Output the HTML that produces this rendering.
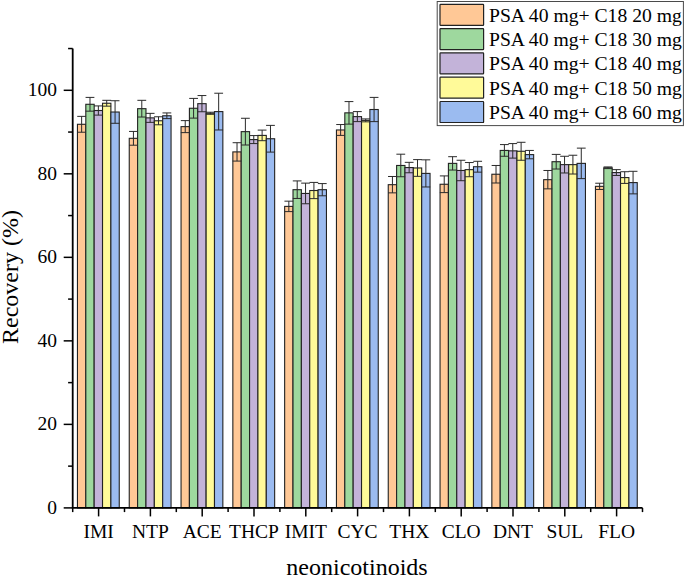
<!DOCTYPE html>
<html><head><meta charset="utf-8"><style>
html,body{margin:0;padding:0;background:#fff;}
svg{display:block;}
.t{font-family:"Liberation Serif",serif;font-size:19.5px;fill:#000;}
.t2{font-family:"Liberation Serif",serif;font-size:24px;fill:#000;}
</style></head><body>
<svg width="685" height="577" viewBox="0 0 685 577">
<rect x="77.45" y="124.29" width="8.36" height="383.61" fill="#FFC896" stroke="#222" stroke-width="1.1"/>
<rect x="85.81" y="104.29" width="8.36" height="403.61" fill="#9ED89E" stroke="#222" stroke-width="1.1"/>
<rect x="94.17" y="110.51" width="8.36" height="397.39" fill="#C3B3D9" stroke="#222" stroke-width="1.1"/>
<rect x="102.53" y="103.25" width="8.36" height="404.65" fill="#FFFA99" stroke="#222" stroke-width="1.1"/>
<rect x="110.89" y="112.02" width="8.36" height="395.88" fill="#9BBBF0" stroke="#222" stroke-width="1.1"/>
<rect x="129.25" y="138.32" width="8.36" height="369.58" fill="#FFC896" stroke="#222" stroke-width="1.1"/>
<rect x="137.61" y="108.67" width="8.36" height="399.23" fill="#9ED89E" stroke="#222" stroke-width="1.1"/>
<rect x="145.97" y="117.86" width="8.36" height="390.04" fill="#C3B3D9" stroke="#222" stroke-width="1.1"/>
<rect x="154.33" y="120.78" width="8.36" height="387.12" fill="#FFFA99" stroke="#222" stroke-width="1.1"/>
<rect x="162.69" y="115.77" width="8.36" height="392.13" fill="#9BBBF0" stroke="#222" stroke-width="1.1"/>
<rect x="181.05" y="126.63" width="8.36" height="381.27" fill="#FFC896" stroke="#222" stroke-width="1.1"/>
<rect x="189.41" y="108.26" width="8.36" height="399.64" fill="#9ED89E" stroke="#222" stroke-width="1.1"/>
<rect x="197.77" y="103.66" width="8.36" height="404.24" fill="#C3B3D9" stroke="#222" stroke-width="1.1"/>
<rect x="206.13" y="113.27" width="8.36" height="394.63" fill="#FFFA99" stroke="#222" stroke-width="1.1"/>
<rect x="214.49" y="111.60" width="8.36" height="396.30" fill="#9BBBF0" stroke="#222" stroke-width="1.1"/>
<rect x="232.85" y="151.90" width="8.36" height="356.00" fill="#FFC896" stroke="#222" stroke-width="1.1"/>
<rect x="241.21" y="131.64" width="8.36" height="376.26" fill="#9ED89E" stroke="#222" stroke-width="1.1"/>
<rect x="249.57" y="139.58" width="8.36" height="368.32" fill="#C3B3D9" stroke="#222" stroke-width="1.1"/>
<rect x="257.93" y="135.40" width="8.36" height="372.50" fill="#FFFA99" stroke="#222" stroke-width="1.1"/>
<rect x="266.29" y="138.74" width="8.36" height="369.16" fill="#9BBBF0" stroke="#222" stroke-width="1.1"/>
<rect x="284.65" y="206.39" width="8.36" height="301.51" fill="#FFC896" stroke="#222" stroke-width="1.1"/>
<rect x="293.01" y="189.69" width="8.36" height="318.21" fill="#9ED89E" stroke="#222" stroke-width="1.1"/>
<rect x="301.37" y="193.45" width="8.36" height="314.45" fill="#C3B3D9" stroke="#222" stroke-width="1.1"/>
<rect x="309.73" y="190.52" width="8.36" height="317.38" fill="#FFFA99" stroke="#222" stroke-width="1.1"/>
<rect x="318.09" y="189.69" width="8.36" height="318.21" fill="#9BBBF0" stroke="#222" stroke-width="1.1"/>
<rect x="336.45" y="129.97" width="8.36" height="377.93" fill="#FFC896" stroke="#222" stroke-width="1.1"/>
<rect x="344.81" y="112.85" width="8.36" height="395.05" fill="#9ED89E" stroke="#222" stroke-width="1.1"/>
<rect x="353.17" y="116.61" width="8.36" height="391.29" fill="#C3B3D9" stroke="#222" stroke-width="1.1"/>
<rect x="361.53" y="120.37" width="8.36" height="387.53" fill="#FFFA99" stroke="#222" stroke-width="1.1"/>
<rect x="369.89" y="109.51" width="8.36" height="398.39" fill="#9BBBF0" stroke="#222" stroke-width="1.1"/>
<rect x="388.25" y="184.68" width="8.36" height="323.22" fill="#FFC896" stroke="#222" stroke-width="1.1"/>
<rect x="396.61" y="165.47" width="8.36" height="342.43" fill="#9ED89E" stroke="#222" stroke-width="1.1"/>
<rect x="404.97" y="167.56" width="8.36" height="340.34" fill="#C3B3D9" stroke="#222" stroke-width="1.1"/>
<rect x="413.33" y="167.97" width="8.36" height="339.93" fill="#FFFA99" stroke="#222" stroke-width="1.1"/>
<rect x="421.69" y="173.40" width="8.36" height="334.50" fill="#9BBBF0" stroke="#222" stroke-width="1.1"/>
<rect x="440.05" y="184.26" width="8.36" height="323.64" fill="#FFC896" stroke="#222" stroke-width="1.1"/>
<rect x="448.41" y="163.38" width="8.36" height="344.52" fill="#9ED89E" stroke="#222" stroke-width="1.1"/>
<rect x="456.77" y="170.48" width="8.36" height="337.42" fill="#C3B3D9" stroke="#222" stroke-width="1.1"/>
<rect x="465.13" y="169.64" width="8.36" height="338.26" fill="#FFFA99" stroke="#222" stroke-width="1.1"/>
<rect x="473.49" y="166.72" width="8.36" height="341.18" fill="#9BBBF0" stroke="#222" stroke-width="1.1"/>
<rect x="491.85" y="174.24" width="8.36" height="333.66" fill="#FFC896" stroke="#222" stroke-width="1.1"/>
<rect x="500.21" y="150.43" width="8.36" height="357.47" fill="#9ED89E" stroke="#222" stroke-width="1.1"/>
<rect x="508.57" y="150.85" width="8.36" height="357.05" fill="#C3B3D9" stroke="#222" stroke-width="1.1"/>
<rect x="516.93" y="151.27" width="8.36" height="356.63" fill="#FFFA99" stroke="#222" stroke-width="1.1"/>
<rect x="525.29" y="154.61" width="8.36" height="353.29" fill="#9BBBF0" stroke="#222" stroke-width="1.1"/>
<rect x="543.65" y="179.67" width="8.36" height="328.23" fill="#FFC896" stroke="#222" stroke-width="1.1"/>
<rect x="552.01" y="161.71" width="8.36" height="346.19" fill="#9ED89E" stroke="#222" stroke-width="1.1"/>
<rect x="560.37" y="164.63" width="8.36" height="343.27" fill="#C3B3D9" stroke="#222" stroke-width="1.1"/>
<rect x="568.73" y="164.63" width="8.36" height="343.27" fill="#FFFA99" stroke="#222" stroke-width="1.1"/>
<rect x="577.09" y="163.38" width="8.36" height="344.52" fill="#9BBBF0" stroke="#222" stroke-width="1.1"/>
<rect x="595.45" y="186.35" width="8.36" height="321.55" fill="#FFC896" stroke="#222" stroke-width="1.1"/>
<rect x="603.81" y="167.76" width="8.36" height="340.14" fill="#9ED89E" stroke="#222" stroke-width="1.1"/>
<rect x="612.17" y="172.57" width="8.36" height="335.33" fill="#C3B3D9" stroke="#222" stroke-width="1.1"/>
<rect x="620.53" y="177.58" width="8.36" height="330.32" fill="#FFFA99" stroke="#222" stroke-width="1.1"/>
<rect x="628.89" y="182.59" width="8.36" height="325.31" fill="#9BBBF0" stroke="#222" stroke-width="1.1"/>
<path d="M81.63 116.36V132.23M77.23 116.36H86.03M77.23 132.23H86.03" stroke="#2a2a2a" stroke-width="1" fill="none"/>
<path d="M89.99 97.40V111.18M85.59 97.40H94.39M85.59 111.18H94.39" stroke="#2a2a2a" stroke-width="1" fill="none"/>
<path d="M98.35 105.92V115.11M93.95 105.92H102.75M93.95 115.11H102.75" stroke="#2a2a2a" stroke-width="1" fill="none"/>
<path d="M106.71 100.32V106.17M102.31 100.32H111.11M102.31 106.17H111.11" stroke="#2a2a2a" stroke-width="1" fill="none"/>
<path d="M115.07 100.74V123.29M110.67 100.74H119.47M110.67 123.29H119.47" stroke="#2a2a2a" stroke-width="1" fill="none"/>
<path d="M133.43 131.43V145.21M129.03 131.43H137.83M129.03 145.21H137.83" stroke="#2a2a2a" stroke-width="1" fill="none"/>
<path d="M141.79 100.32V117.03M137.39 100.32H146.19M137.39 117.03H146.19" stroke="#2a2a2a" stroke-width="1" fill="none"/>
<path d="M150.15 113.35V122.37M145.75 113.35H154.55M145.75 122.37H154.55" stroke="#2a2a2a" stroke-width="1" fill="none"/>
<path d="M158.51 116.78V124.79M154.11 116.78H162.91M154.11 124.79H162.91" stroke="#2a2a2a" stroke-width="1" fill="none"/>
<path d="M166.87 112.93V118.61M162.47 112.93H171.27M162.47 118.61H171.27" stroke="#2a2a2a" stroke-width="1" fill="none"/>
<path d="M185.23 120.62V132.64M180.83 120.62H189.63M180.83 132.64H189.63" stroke="#2a2a2a" stroke-width="1" fill="none"/>
<path d="M193.59 98.40V118.11M189.19 98.40H197.99M189.19 118.11H197.99" stroke="#2a2a2a" stroke-width="1" fill="none"/>
<path d="M201.95 95.56V111.76M197.55 95.56H206.35M197.55 111.76H206.35" stroke="#2a2a2a" stroke-width="1" fill="none"/>
<path d="M210.31 112.22V114.31M205.91 112.22H214.71M205.91 114.31H214.71" stroke="#2a2a2a" stroke-width="1" fill="none"/>
<path d="M218.67 93.22V129.97M214.27 93.22H223.07M214.27 129.97H223.07" stroke="#2a2a2a" stroke-width="1" fill="none"/>
<path d="M237.03 142.71V161.08M232.63 142.71H241.43M232.63 161.08H241.43" stroke="#2a2a2a" stroke-width="1" fill="none"/>
<path d="M245.39 118.28V145.01M240.99 118.28H249.79M240.99 145.01H249.79" stroke="#2a2a2a" stroke-width="1" fill="none"/>
<path d="M253.75 135.57V143.59M249.35 135.57H258.15M249.35 143.59H258.15" stroke="#2a2a2a" stroke-width="1" fill="none"/>
<path d="M262.11 130.10V140.70M257.71 130.10H266.51M257.71 140.70H266.51" stroke="#2a2a2a" stroke-width="1" fill="none"/>
<path d="M270.47 125.38V152.10M266.07 125.38H274.87M266.07 152.10H274.87" stroke="#2a2a2a" stroke-width="1" fill="none"/>
<path d="M288.83 201.17V211.61M284.43 201.17H293.23M284.43 211.61H293.23" stroke="#2a2a2a" stroke-width="1" fill="none"/>
<path d="M297.19 180.92V198.46M292.79 180.92H301.59M292.79 198.46H301.59" stroke="#2a2a2a" stroke-width="1" fill="none"/>
<path d="M305.55 183.13V203.76M301.15 183.13H309.95M301.15 203.76H309.95" stroke="#2a2a2a" stroke-width="1" fill="none"/>
<path d="M313.91 182.42V198.63M309.51 182.42H318.31M309.51 198.63H318.31" stroke="#2a2a2a" stroke-width="1" fill="none"/>
<path d="M322.27 183.59V195.79M317.87 183.59H326.67M317.87 195.79H326.67" stroke="#2a2a2a" stroke-width="1" fill="none"/>
<path d="M340.63 124.54V135.40M336.23 124.54H345.03M336.23 135.40H345.03" stroke="#2a2a2a" stroke-width="1" fill="none"/>
<path d="M348.99 101.58V124.13M344.59 101.58H353.39M344.59 124.13H353.39" stroke="#2a2a2a" stroke-width="1" fill="none"/>
<path d="M357.35 111.60V121.62M352.95 111.60H361.75M352.95 121.62H361.75" stroke="#2a2a2a" stroke-width="1" fill="none"/>
<path d="M365.71 118.91V121.83M361.31 118.91H370.11M361.31 121.83H370.11" stroke="#2a2a2a" stroke-width="1" fill="none"/>
<path d="M374.07 97.40V121.62M369.67 97.40H378.47M369.67 121.62H378.47" stroke="#2a2a2a" stroke-width="1" fill="none"/>
<path d="M392.43 176.49V192.86M388.03 176.49H396.83M388.03 192.86H396.83" stroke="#2a2a2a" stroke-width="1" fill="none"/>
<path d="M400.79 154.19V176.74M396.39 154.19H405.19M396.39 176.74H405.19" stroke="#2a2a2a" stroke-width="1" fill="none"/>
<path d="M409.15 162.34V172.78M404.75 162.34H413.55M404.75 172.78H413.55" stroke="#2a2a2a" stroke-width="1" fill="none"/>
<path d="M417.51 159.62V176.33M413.11 159.62H421.91M413.11 176.33H421.91" stroke="#2a2a2a" stroke-width="1" fill="none"/>
<path d="M425.87 159.83V186.97M421.47 159.83H430.27M421.47 186.97H430.27" stroke="#2a2a2a" stroke-width="1" fill="none"/>
<path d="M444.23 175.91V192.61M439.83 175.91H448.63M439.83 192.61H448.63" stroke="#2a2a2a" stroke-width="1" fill="none"/>
<path d="M452.59 156.70V170.06M448.19 156.70H456.99M448.19 170.06H456.99" stroke="#2a2a2a" stroke-width="1" fill="none"/>
<path d="M460.95 160.25V180.71M456.55 160.25H465.35M456.55 180.71H465.35" stroke="#2a2a2a" stroke-width="1" fill="none"/>
<path d="M469.31 162.54V176.74M464.91 162.54H473.71M464.91 176.74H473.71" stroke="#2a2a2a" stroke-width="1" fill="none"/>
<path d="M477.67 161.29V172.15M473.27 161.29H482.07M473.27 172.15H482.07" stroke="#2a2a2a" stroke-width="1" fill="none"/>
<path d="M496.03 165.47V183.01M491.63 165.47H500.43M491.63 183.01H500.43" stroke="#2a2a2a" stroke-width="1" fill="none"/>
<path d="M504.39 144.59V156.28M499.99 144.59H508.79M499.99 156.28H508.79" stroke="#2a2a2a" stroke-width="1" fill="none"/>
<path d="M512.75 143.59V158.12M508.35 143.59H517.15M508.35 158.12H517.15" stroke="#2a2a2a" stroke-width="1" fill="none"/>
<path d="M521.11 142.29V160.25M516.71 142.29H525.51M516.71 160.25H525.51" stroke="#2a2a2a" stroke-width="1" fill="none"/>
<path d="M529.47 150.43V158.79M525.07 150.43H533.87M525.07 158.79H533.87" stroke="#2a2a2a" stroke-width="1" fill="none"/>
<path d="M547.83 170.48V188.85M543.43 170.48H552.23M543.43 188.85H552.23" stroke="#2a2a2a" stroke-width="1" fill="none"/>
<path d="M556.19 154.40V169.02M551.79 154.40H560.59M551.79 169.02H560.59" stroke="#2a2a2a" stroke-width="1" fill="none"/>
<path d="M564.55 156.28V172.98M560.15 156.28H568.95M560.15 172.98H568.95" stroke="#2a2a2a" stroke-width="1" fill="none"/>
<path d="M572.91 155.24V174.03M568.51 155.24H577.31M568.51 174.03H577.31" stroke="#2a2a2a" stroke-width="1" fill="none"/>
<path d="M581.27 148.14V178.62M576.87 148.14H585.67M576.87 178.62H585.67" stroke="#2a2a2a" stroke-width="1" fill="none"/>
<path d="M599.63 183.22V189.48M595.23 183.22H604.03M595.23 189.48H604.03" stroke="#2a2a2a" stroke-width="1" fill="none"/>
<path d="M607.99 166.93V168.60M603.59 166.93H612.39M603.59 168.60H612.39" stroke="#2a2a2a" stroke-width="1" fill="none"/>
<path d="M616.35 169.64V175.49M611.95 169.64H620.75M611.95 175.49H620.75" stroke="#2a2a2a" stroke-width="1" fill="none"/>
<path d="M624.71 171.73V183.42M620.31 171.73H629.11M620.31 183.42H629.11" stroke="#2a2a2a" stroke-width="1" fill="none"/>
<path d="M633.07 171.31V193.86M628.67 171.31H637.47M628.67 193.86H637.47" stroke="#2a2a2a" stroke-width="1" fill="none"/>
<path d="M72.7 48.54V507.9H642.5" stroke="#000" stroke-width="1.8" fill="none"/>
<path d="M63.70 507.90H72.7" stroke="#000" stroke-width="1.5"/>
<path d="M68.10 466.14H72.7" stroke="#000" stroke-width="1.5"/>
<path d="M63.70 424.38H72.7" stroke="#000" stroke-width="1.5"/>
<path d="M68.10 382.62H72.7" stroke="#000" stroke-width="1.5"/>
<path d="M63.70 340.86H72.7" stroke="#000" stroke-width="1.5"/>
<path d="M68.10 299.10H72.7" stroke="#000" stroke-width="1.5"/>
<path d="M63.70 257.34H72.7" stroke="#000" stroke-width="1.5"/>
<path d="M68.10 215.58H72.7" stroke="#000" stroke-width="1.5"/>
<path d="M63.70 173.82H72.7" stroke="#000" stroke-width="1.5"/>
<path d="M68.10 132.06H72.7" stroke="#000" stroke-width="1.5"/>
<path d="M63.70 90.30H72.7" stroke="#000" stroke-width="1.5"/>
<path d="M68.10 48.54H72.7" stroke="#000" stroke-width="1.5"/>
<path d="M72.70 507.9V512.10" stroke="#000" stroke-width="1.5"/>
<path d="M124.50 507.9V512.10" stroke="#000" stroke-width="1.5"/>
<path d="M176.30 507.9V512.10" stroke="#000" stroke-width="1.5"/>
<path d="M228.10 507.9V512.10" stroke="#000" stroke-width="1.5"/>
<path d="M279.90 507.9V512.10" stroke="#000" stroke-width="1.5"/>
<path d="M331.70 507.9V512.10" stroke="#000" stroke-width="1.5"/>
<path d="M383.50 507.9V512.10" stroke="#000" stroke-width="1.5"/>
<path d="M435.30 507.9V512.10" stroke="#000" stroke-width="1.5"/>
<path d="M487.10 507.9V512.10" stroke="#000" stroke-width="1.5"/>
<path d="M538.90 507.9V512.10" stroke="#000" stroke-width="1.5"/>
<path d="M590.70 507.9V512.10" stroke="#000" stroke-width="1.5"/>
<path d="M642.50 507.9V512.10" stroke="#000" stroke-width="1.5"/>
<path d="M98.60 507.9V516.40" stroke="#000" stroke-width="1.5"/>
<path d="M150.40 507.9V516.40" stroke="#000" stroke-width="1.5"/>
<path d="M202.20 507.9V516.40" stroke="#000" stroke-width="1.5"/>
<path d="M254.00 507.9V516.40" stroke="#000" stroke-width="1.5"/>
<path d="M305.80 507.9V516.40" stroke="#000" stroke-width="1.5"/>
<path d="M357.60 507.9V516.40" stroke="#000" stroke-width="1.5"/>
<path d="M409.40 507.9V516.40" stroke="#000" stroke-width="1.5"/>
<path d="M461.20 507.9V516.40" stroke="#000" stroke-width="1.5"/>
<path d="M513.00 507.9V516.40" stroke="#000" stroke-width="1.5"/>
<path d="M564.80 507.9V516.40" stroke="#000" stroke-width="1.5"/>
<path d="M616.60 507.9V516.40" stroke="#000" stroke-width="1.5"/>
<text x="57" y="513.80" text-anchor="end" class="t">0</text>
<text x="57" y="430.28" text-anchor="end" class="t">20</text>
<text x="57" y="346.76" text-anchor="end" class="t">40</text>
<text x="57" y="263.24" text-anchor="end" class="t">60</text>
<text x="57" y="179.72" text-anchor="end" class="t">80</text>
<text x="57" y="96.20" text-anchor="end" class="t">100</text>
<text x="98.60" y="538" text-anchor="middle" class="t">IMI</text>
<text x="150.40" y="538" text-anchor="middle" class="t">NTP</text>
<text x="202.20" y="538" text-anchor="middle" class="t">ACE</text>
<text x="254.00" y="538" text-anchor="middle" class="t">THCP</text>
<text x="305.80" y="538" text-anchor="middle" class="t">IMIT</text>
<text x="357.60" y="538" text-anchor="middle" class="t">CYC</text>
<text x="409.40" y="538" text-anchor="middle" class="t">THX</text>
<text x="461.20" y="538" text-anchor="middle" class="t">CLO</text>
<text x="513.00" y="538" text-anchor="middle" class="t">DNT</text>
<text x="564.80" y="538" text-anchor="middle" class="t">SUL</text>
<text x="616.60" y="538" text-anchor="middle" class="t">FLO</text>
<text x="357" y="575.3" text-anchor="middle" class="t2">neonicotinoids</text>
<text transform="translate(18.4 277) rotate(-90)" text-anchor="middle" class="t2">Recovery (%)</text>
<rect x="437.2" y="1.5" width="246.2" height="124.1" fill="#fff" stroke="#4a4a4a" stroke-width="1"/>
<rect x="440" y="4.30" width="43.6" height="21" rx="0.6" fill="#FFC896" stroke="#222" stroke-width="1.2"/>
<text x="489" y="21.60" class="t" style="font-size:19.65px">PSA 40 mg+ C18 20 mg</text>
<rect x="440" y="28.60" width="43.6" height="21" rx="0.6" fill="#9ED89E" stroke="#222" stroke-width="1.2"/>
<text x="489" y="45.90" class="t" style="font-size:19.65px">PSA 40 mg+ C18 30 mg</text>
<rect x="440" y="52.90" width="43.6" height="21" rx="0.6" fill="#C3B3D9" stroke="#222" stroke-width="1.2"/>
<text x="489" y="70.20" class="t" style="font-size:19.65px">PSA 40 mg+ C18 40 mg</text>
<rect x="440" y="77.20" width="43.6" height="21" rx="0.6" fill="#FFFA99" stroke="#222" stroke-width="1.2"/>
<text x="489" y="94.50" class="t" style="font-size:19.65px">PSA 40 mg+ C18 50 mg</text>
<rect x="440" y="101.50" width="43.6" height="21" rx="0.6" fill="#9BBBF0" stroke="#222" stroke-width="1.2"/>
<text x="489" y="118.80" class="t" style="font-size:19.65px">PSA 40 mg+ C18 60 mg</text>
</svg>
</body></html>
